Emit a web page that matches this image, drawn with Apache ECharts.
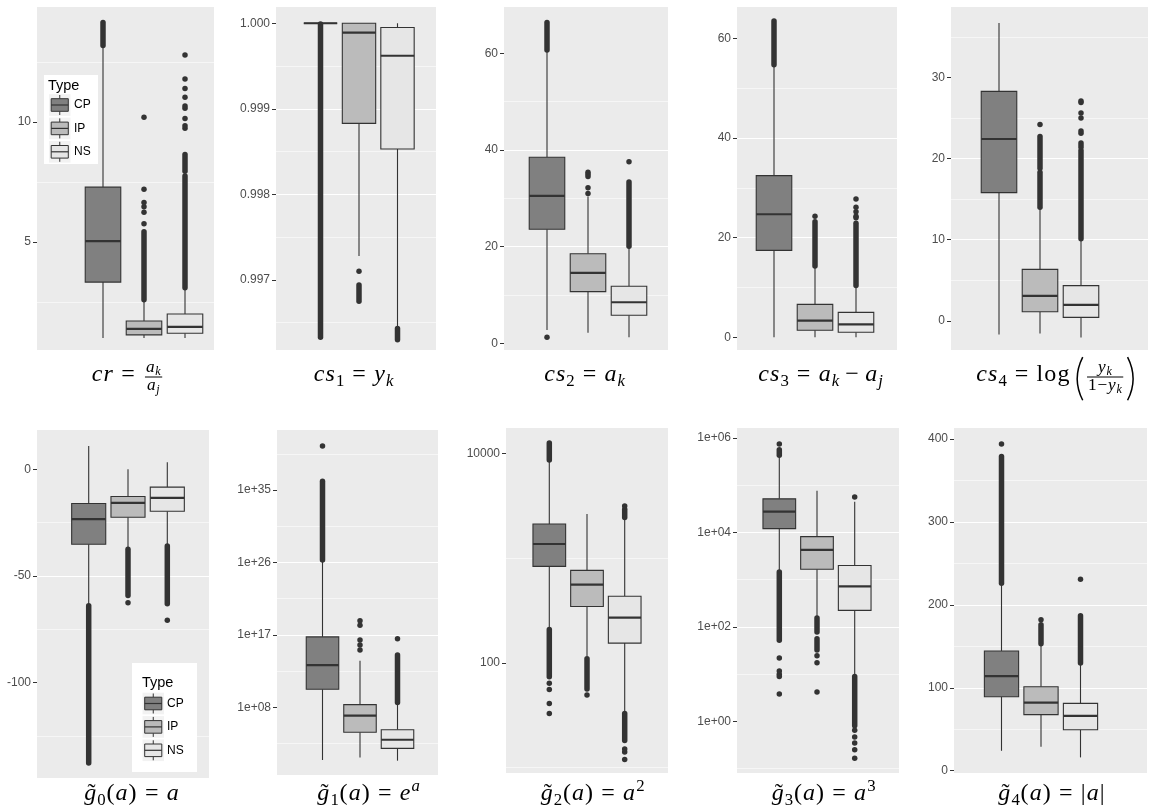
<!DOCTYPE html>
<html><head><meta charset="utf-8">
<script src="https://cdn.jsdelivr.net/npm/echarts@6/dist/echarts.min.js"></script>
<style>html,body{margin:0;padding:0;background:#fff}#c{width:1150px;height:810px}</style>
</head><body><div id="c"></div>
<script>
// ---------------- DATA ----------------
const types = ['CP', 'IP', 'NS'];
// five-number boxes per type: [lower whisker, Q1, median, Q3, upper whisker]
// Pts = single outliers, Runs = dense runs of overlapping outliers [from, to]
const crBox  = [[1.0, 3.33, 5.04, 7.29, 13.1], [1.0, 1.13, 1.38, 1.71, 2.5], [1.0, 1.2, 1.46, 2.0, 3.08]];
const crPts  = [[], [5.76, 6.24, 6.47, 6.65, 7.2, 10.2], [9.75, 9.85, 10.15, 10.58, 10.67, 11.04, 11.4, 11.8, 12.8]];
const crRuns = [[[13.2, 14.15]], [[2.6, 5.43]], [[3.1, 7.75], [7.95, 8.65]]];
const crTicks = [5, 10];

const cs1Box  = [[1.0, 1.0, 1.0, 1.0, 1.0], [0.99728, 0.99883, 0.99989, 1.0, 1.0], [0.99644, 0.99853, 0.99962, 0.99995, 1.0]];
const cs1Pts  = [[], [0.9971], []];
const cs1Runs = [[[0.99633, 0.99999]], [[0.99675, 0.99694]], [[0.9963, 0.99643]]];
const cs1Ticks = [0.997, 0.998, 0.999, 1.0];

const cs2Box  = [[2.76, 23.6, 30.5, 38.5, 60.5], [2.2, 10.7, 14.6, 18.55, 30.4], [1.24, 5.8, 8.5, 11.8, 20.0]];
const cs2Pts  = [[1.24], [31.0, 32.2, 34.5, 35.0, 35.4], [37.6]];
const cs2Runs = [[[60.7, 66.4]], [], [[20.1, 33.4]]];
const cs2Ticks = [0, 20, 40, 60];

const cs3Box  = [[0, 17.45, 24.7, 32.45, 54.6], [0, 1.4, 3.33, 6.6, 14.2], [0, 1.0, 2.6, 5.0, 10.35]];
const cs3Pts  = [[], [24.3], [24.0, 24.3, 25.2, 26.1, 27.75]];
const cs3Runs = [[[54.7, 63.5]], [[14.3, 23.2]], [[10.4, 22.9]]];
const cs3Ticks = [0, 20, 40, 60];

const cs4Box  = [[-1.68, 15.8, 22.4, 28.27, 36.7], [-1.56, 1.11, 3.08, 6.34, 13.9], [-2.05, 0.42, 1.96, 4.33, 10.0]];
const cs4Pts  = [[], [24.2], [23.1, 23.4, 25.0, 25.6, 26.9, 27.1]];
const cs4Runs = [[], [[14.0, 18.3], [18.8, 22.7]], [[10.1, 21.0], [21.4, 21.9]]];
const cs4Ticks = [0, 10, 20, 30];

const g0Box  = [[-63.5, -35.2, -23.4, -16.1, 10.9], [-37.0, -22.5, -15.8, -12.8, 0.0], [-35.5, -19.7, -13.4, -8.4, 3.3]];
const g0Pts  = [[], [-62.6], [-70.8]];
const g0Runs = [[[-137.8, -64.0]], [[-59.2, -37.5]], [[-63.1, -36.0]]];
const g0Ticks = [-100, -50, 0];

const g1Box  = [[28, 1.74e10, 1.7e13, 5.6e16, 1.8e26], [55, 7.8e4, 9.3e6, 2.1e8, 5.9e13], [23, 776, 9.1e3, 1.6e5, 3.2e8]];
const g1Pts  = [[2.95e40], [1.3e15, 5.6e15, 2.3e16, 1.6e18, 5.6e18], [3.2e16]];
const g1Runs = [[[2e26, 1.26e36]], [], [[4e8, 3.2e14]]];
const g1Ticks = [1e8, 1e17, 1e26, 1e35];

const g2Box  = [[216, 838, 1371, 2128, 8453], [116, 347, 562, 767, 2655], [34, 155, 271, 434, 2400]];
const g2Pts  = [[64, 56, 41, 33], [49.4], [3160, 15.1, 14.1, 12.0]];
const g2Runs = [[[74, 209], [8700, 12650]], [[56.5, 110]], [[2450, 2950], [18.2, 33]]];
const g2Ticks = [100, 10000];

const g3Box  = [[1514, 12023, 27542, 51286, 4.07e5], [162, 1660, 4266, 8128, 75858], [9.3, 224, 724, 1995, 44668]];
const g3Pts  = [[7.41e5, 21.9, 11.7, 10, 8.9, 3.8], [24.5, 17.4, 4.17], [56234, 0.65, 0.47, 0.35, 0.25, 0.166]];
const g3Runs = [[[4.27e5, 5.62e5], [52.5, 1445]], [[77.6, 155], [32.4, 56.2]], [[0.81, 8.9]]];
const g3Ticks = [1, 100, 1e4, 1e6];

const g4Box  = [[24, 89.2, 114, 144.4, 225], [29, 67.6, 82, 101.2, 152], [16, 49.3, 66, 81.2, 129]];
const g4Pts  = [[394], [182], [231]];
const g4Runs = [[[226, 379]], [[153, 176]], [[130, 187]]];
const g4Ticks = [0, 100, 200, 300, 400];

// ---------------- LAYOUT / STYLE ----------------
const FILLS = ['#808080', '#BBBBBB', '#E6E6E6'];
const INK = '#333333';
const BOX_W = 0.26, DODGE = 0.3, DOT = 5.5;

const panels = [
  {box: crBox,  pts: crPts,  runs: crRuns,  ticks: crTicks,  L: 37,  R: 214,  T: 7,   B: 350, C: 144,  s: 41,   min: 0.5,     max: 14.8,    step: 5,     fmt: 'num'},
  {box: cs1Box, pts: cs1Pts, runs: cs1Runs, ticks: cs1Ticks, L: 276, R: 436,  T: 7,   B: 350, C: 359,  s: 38.5, min: 0.99618, max: 1.00019, step: 0.001, fmt: 'fix3'},
  {box: cs2Box, pts: cs2Pts, runs: cs2Runs, ticks: cs2Ticks, L: 504, R: 668,  T: 7,   B: 350, C: 588,  s: 41,   min: -1.38,   max: 69.6,    step: 20,    fmt: 'num'},
  {box: cs3Box, pts: cs3Pts, runs: cs3Runs, ticks: cs3Ticks, L: 737, R: 897,  T: 7,   B: 350, C: 815,  s: 41,   min: -2.55,   max: 66.3,    step: 20,    fmt: 'num'},
  {box: cs4Box, pts: cs4Pts, runs: cs4Runs, ticks: cs4Ticks, L: 951, R: 1148, T: 7,   B: 350, C: 1040, s: 41,   min: -3.6,    max: 38.67,   step: 10,    fmt: 'num'},
  {box: g0Box,  pts: g0Pts,  runs: g0Runs,  ticks: g0Ticks,  L: 37,  R: 209,  T: 430, B: 778, C: 128,  s: 39.3, min: -144.8,  max: 18.4,    step: 50,    fmt: 'num'},
  {box: g1Box,  pts: g1Pts,  runs: g1Runs,  ticks: g1Ticks,  L: 277, R: 438,  T: 430, B: 775, C: 360,  s: 37.5, min: 0.38,    max: 2.9e42,  step: 9,     fmt: 'sci', log: true, off: 8},
  {box: g2Box,  pts: g2Pts,  runs: g2Runs,  ticks: g2Ticks,  L: 506, R: 668,  T: 428, B: 773, C: 587,  s: 37.7, min: 8.9,     max: 17580,   step: 2,     fmt: 'pow', log: true, off: 0},
  {box: g3Box,  pts: g3Pts,  runs: g3Runs,  ticks: g3Ticks,  L: 737, R: 899,  T: 428, B: 773, C: 817,  s: 37.7, min: 0.081,   max: 1.62e6,  step: 2,     fmt: 'sci', log: true, off: 0},
  {box: g4Box,  pts: g4Pts,  runs: g4Runs,  ticks: g4Ticks,  L: 954, R: 1147, T: 428, B: 773, C: 1041, s: 39.5, min: -2.8,    max: 413.3,   step: 100,   fmt: 'num'}
];

function sci(e) { const n = Math.round(e); return '1e' + (n < 0 ? '-' : '+') + String(Math.abs(n)).padStart(2, '0'); }

function renderBox(params, api) {
  const x = api.value(0);
  const lo = api.coord([x, api.value(1)]), q1 = api.coord([x, api.value(2)]);
  const md = api.coord([x, api.value(3)]), q3 = api.coord([x, api.value(4)]);
  const hi = api.coord([x, api.value(5)]);
  const hw = api.size([BOX_W, 0])[0] / 2;
  const cx = md[0];
  const ti = api.value(6);
  return {type: 'group', children: [
    {type: 'line', shape: {x1: cx, y1: q3[1], x2: cx, y2: hi[1]}, style: {stroke: INK, lineWidth: 1.1}},
    {type: 'line', shape: {x1: cx, y1: q1[1], x2: cx, y2: lo[1]}, style: {stroke: INK, lineWidth: 1.1}},
    {type: 'rect', shape: {x: cx - hw, y: q3[1], width: 2 * hw, height: q1[1] - q3[1]}, style: {fill: FILLS[ti], stroke: INK, lineWidth: 1.1}},
    {type: 'line', shape: {x1: cx - hw, y1: md[1], x2: cx + hw, y2: md[1]}, style: {stroke: INK, lineWidth: 2.2}}
  ]};
}
function renderRun(params, api) {
  const x = api.value(0);
  const a = api.coord([x, api.value(1)]), b = api.coord([x, api.value(2)]);
  return {type: 'line', shape: {x1: a[0], y1: a[1], x2: b[0], y2: b[1]}, style: {stroke: INK, lineWidth: DOT, lineCap: 'round'}};
}

const grids = [], xAxes = [], yAxes = [], series = [];
panels.forEach((p, k) => {
  const tf = v => p.log ? Math.log10(v) - p.off : v;
  const u = DODGE / p.s;
  grids.push({left: p.L, top: p.T, width: p.R - p.L, height: p.B - p.T, show: true, backgroundColor: '#EBEBEB', borderWidth: 0, containLabel: false, outerBoundsMode: 'none'});
  xAxes.push({type: 'value', gridIndex: k, min: 1 - (p.C - p.L) * u, max: 1 + (p.R - p.C) * u, minInterval: 1, maxInterval: 1,
    axisLine: {show: false}, axisTick: {show: false, customValues: [1]}, axisLabel: {show: false, customValues: [1]},
    splitLine: {show: true, showMinLine: false, showMaxLine: false, lineStyle: {color: '#FFFFFF', width: 1.1}}});
  const tv = p.ticks.map(tf);
  const fmt = v => p.fmt === 'fix3' ? v.toFixed(3) : p.fmt === 'sci' ? sci(v + p.off) : p.fmt === 'pow' ? String(Math.round(Math.pow(10, v))) : String(Math.round(v * 1000) / 1000);
  yAxes.push({type: 'value', gridIndex: k, min: tf(p.min), max: tf(p.max), minInterval: p.step, maxInterval: p.step, splitNumber: 5,
    axisLine: {show: false},
    axisTick: {show: true, length: 4, lineStyle: {color: INK, width: 1}, customValues: tv},
    axisLabel: {show: true, margin: 6, color: '#4D4D4D', fontSize: 12, fontFamily: 'Liberation Sans, Arial, sans-serif', customValues: tv, formatter: fmt, showMinLabel: true, showMaxLabel: true},
    splitLine: {show: true, showMinLine: false, showMaxLine: false, lineStyle: {color: '#FFFFFF', width: 1.1}},
    minorTick: {show: false, splitNumber: 2},
    minorSplitLine: {show: true, lineStyle: {color: '#FFFFFF', width: 0.55}}});
  const xs = ti => 1 + (ti - 1) * DODGE;
  series.push({type: 'custom', name: 'box' + k, xAxisIndex: k, yAxisIndex: k, renderItem: renderBox, silent: true,
    encode: {x: 0, y: [1, 2, 3, 4, 5]},
    data: types.map((t, ti) => [xs(ti)].concat(p.box[ti].map(tf), [ti]))});
  const runData = [];
  p.runs.forEach((arr, ti) => arr.forEach(r => runData.push([xs(ti), tf(r[0]), tf(r[1])])));
  series.push({type: 'custom', name: 'runs' + k, xAxisIndex: k, yAxisIndex: k, renderItem: renderRun, silent: true, encode: {x: 0, y: [1, 2]}, data: runData});
  const ptData = [];
  p.pts.forEach((arr, ti) => arr.forEach(v => ptData.push([xs(ti), tf(v)])));
  series.push({type: 'scatter', name: 'pts' + k, xAxisIndex: k, yAxisIndex: k, symbol: 'circle', symbolSize: DOT, silent: true, itemStyle: {color: INK, opacity: 1}, data: ptData});
});

// ---------------- TITLES (math labels) ----------------
const MFONT = '"Liberation Serif", "DejaVu Serif", serif';
const mctx = document.createElement('canvas').getContext('2d');
function fontStr(size, it) { return (it ? 'italic ' : '') + size.toFixed(1) + 'px ' + MFONT; }
function measure(t, size, it) { mctx.font = fontStr(size, it); return mctx.measureText(t).width; }
function textEl(t, x, base, s, it, align) {
  return {type: 'text', x: x, y: base - 0.34 * s, z: 100, silent: true,
    style: {text: t, font: fontStr(s, it), fill: '#000', align: align, verticalAlign: 'middle', textAlign: align, textVerticalAlign: 'middle'}};
}
const TRACK = 0.045; // extra spacing after each glyph run (em), mimics the wider math font
function lay(tokens, size, x, base, out) {
  let cx = x;
  tokens.forEach(tk => {
    if (tk.gap != null) { cx += tk.gap * size; return; }
    if (tk.frac) {
      const fs = size * 0.72;
      const wn = lay(tk.frac[0], fs, 0, 0, null), wd = lay(tk.frac[1], fs, 0, 0, null);
      const w = Math.max(wn, wd) + 0.24 * size;
      const bar = base - 0.25 * size;
      if (out) {
        lay(tk.frac[0], fs, cx + (w - wn) / 2, bar - 0.17 * size, out);
        lay(tk.frac[1], fs, cx + (w - wd) / 2, bar + 0.58 * size, out);
        out.push({type: 'line', z: 100, silent: true, shape: {x1: cx + 0.08 * size, y1: bar, x2: cx + w - 0.08 * size, y2: bar}, style: {stroke: '#000', lineWidth: 1}});
      }
      cx += w; return;
    }
    if (tk.paren) {
      const w = 0.44 * size, top = base - 1.08 * size, bot = base + 0.72 * size, mid = (top + bot) / 2;
      if (out) {
        const xe = tk.paren === '(' ? cx + 0.34 * size : cx + 0.1 * size;
        const xc = tk.paren === '(' ? cx - 0.12 * size : cx + 0.56 * size;
        out.push({type: 'bezierCurve', z: 100, silent: true, shape: {x1: xe, y1: top, x2: xe, y2: bot, cpx1: xc, cpy1: mid}, style: {stroke: '#000', lineWidth: 1.5}});
      }
      cx += w; return;
    }
    const s = (tk.sub || tk.sup) ? size * 0.7 : size;
    const b = tk.sub ? base + 0.16 * size : (tk.sup ? base - 0.42 * size : base);
    const chars = Array.from(tk.t);
    chars.forEach(ch => {
      const w = measure(ch, s, tk.i);
      if (out) {
        out.push(textEl(ch, cx, b, s, tk.i, 'left'));
        if (tk.tilde) out.push(textEl('\u02DC', cx + w * 0.6, b, s, false, 'center'));
      }
      cx += w + TRACK * s;
    });
  });
  return cx - x;
}
const I = (t, o) => Object.assign({t: t, i: true}, o || {});
const Rm = (t, o) => Object.assign({t: t}, o || {});
const EQ = [{gap: 0.3}, Rm('='), {gap: 0.3}];
const MINUS = [{gap: 0.22}, Rm('\u2212'), {gap: 0.22}];
const gt = n => [I('g', {tilde: 1}), Rm(String(n), {sub: 1}), Rm('('), I('a'), Rm(')')].concat(EQ);
const titles = [
  {cx: 128,  base: 383, tk: [I('cr')].concat(EQ, [{frac: [[I('a'), I('k', {sub: 1})], [I('a'), I('j', {sub: 1})]]}])},
  {cx: 354,  base: 383, tk: [I('cs'), Rm('1', {sub: 1})].concat(EQ, [I('y'), I('k', {sub: 1})])},
  {cx: 585,  base: 383, tk: [I('cs'), Rm('2', {sub: 1})].concat(EQ, [I('a'), I('k', {sub: 1})])},
  {cx: 821,  base: 383, tk: [I('cs'), Rm('3', {sub: 1})].concat(EQ, [I('a'), I('k', {sub: 1})], MINUS, [I('a'), I('j', {sub: 1})])},
  {cx: 1056, base: 383, tk: [I('cs'), Rm('4', {sub: 1})].concat(EQ, [Rm('log'), {gap: 0.17}, {paren: '('},
      {frac: [[I('y'), I('k', {sub: 1})], [Rm('1'), Rm('\u2212'), I('y'), I('k', {sub: 1})]]}, {paren: ')'}])},
  {cx: 132,  base: 802, tk: gt(0).concat([I('a')])},
  {cx: 369,  base: 802, tk: gt(1).concat([I('e'), I('a', {sup: 1})])},
  {cx: 593,  base: 802, tk: gt(2).concat([I('a'), Rm('2', {sup: 1})])},
  {cx: 824,  base: 802, tk: gt(3).concat([I('a'), Rm('3', {sup: 1})])},
  {cx: 1052, base: 802, tk: gt(4).concat([Rm('|'), I('a'), Rm('|')])}
];
const graphics = [];
const TSIZE = 24;
titles.forEach(t => {
  const w = lay(t.tk, TSIZE, 0, 0, null);
  lay(t.tk, TSIZE, t.cx - w / 2, t.base, graphics);
});

// ---------------- LEGENDS ----------------
function legend(o) {
  graphics.push({type: 'rect', z: 100, silent: true, shape: {x: o.x, y: o.y, width: o.w, height: o.h}, style: {fill: '#FFFFFF'}});
  graphics.push({type: 'text', z: 101, silent: true, x: o.tx, y: o.ty, style: {text: 'Type', font: '14.5px "Liberation Sans", Arial, sans-serif', fill: '#000', align: 'left', verticalAlign: 'middle', textAlign: 'left', textVerticalAlign: 'middle'}});
  types.forEach((t, i) => {
    const cy = o.ky + i * o.step, kx = o.kx;
    graphics.push({type: 'rect', z: 101, silent: true, shape: {x: kx, y: cy - 10.8, width: 21.5, height: 21.6}, style: {fill: '#F2F2F2'}});
    graphics.push({type: 'line', z: 102, silent: true, shape: {x1: kx + 10.75, y1: cy - 10, x2: kx + 10.75, y2: cy - 6.3}, style: {stroke: INK, lineWidth: 1}});
    graphics.push({type: 'line', z: 102, silent: true, shape: {x1: kx + 10.75, y1: cy + 6.3, x2: kx + 10.75, y2: cy + 10}, style: {stroke: INK, lineWidth: 1}});
    graphics.push({type: 'rect', z: 102, silent: true, shape: {x: kx + 2.2, y: cy - 6.3, width: 17.1, height: 12.6}, style: {fill: FILLS[i], stroke: INK, lineWidth: 1}});
    graphics.push({type: 'line', z: 103, silent: true, shape: {x1: kx + 2.2, y1: cy, x2: kx + 19.3, y2: cy}, style: {stroke: INK, lineWidth: 1.2}});
    graphics.push({type: 'text', z: 101, silent: true, x: o.lx, y: cy, style: {text: t, font: '12px "Liberation Sans", Arial, sans-serif', fill: '#000', align: 'left', verticalAlign: 'middle', textAlign: 'left', textVerticalAlign: 'middle'}});
  });
}
legend({x: 44,  y: 75,  w: 54, h: 89,  tx: 48,  ty: 86,  kx: 49,  ky: 105,   step: 23.4, lx: 74});
legend({x: 132, y: 663, w: 65, h: 109, tx: 142, ty: 683, kx: 142.5, ky: 703.5, step: 23.4, lx: 167});

const chart = echarts.init(document.getElementById('c'), null, {renderer: 'canvas', width: 1150, height: 810});
chart.setOption({
  backgroundColor: '#FFFFFF',
  animation: false,
  grid: grids, xAxis: xAxes, yAxis: yAxes, series: series,
  graphic: {elements: graphics}
});
</script></body></html>
